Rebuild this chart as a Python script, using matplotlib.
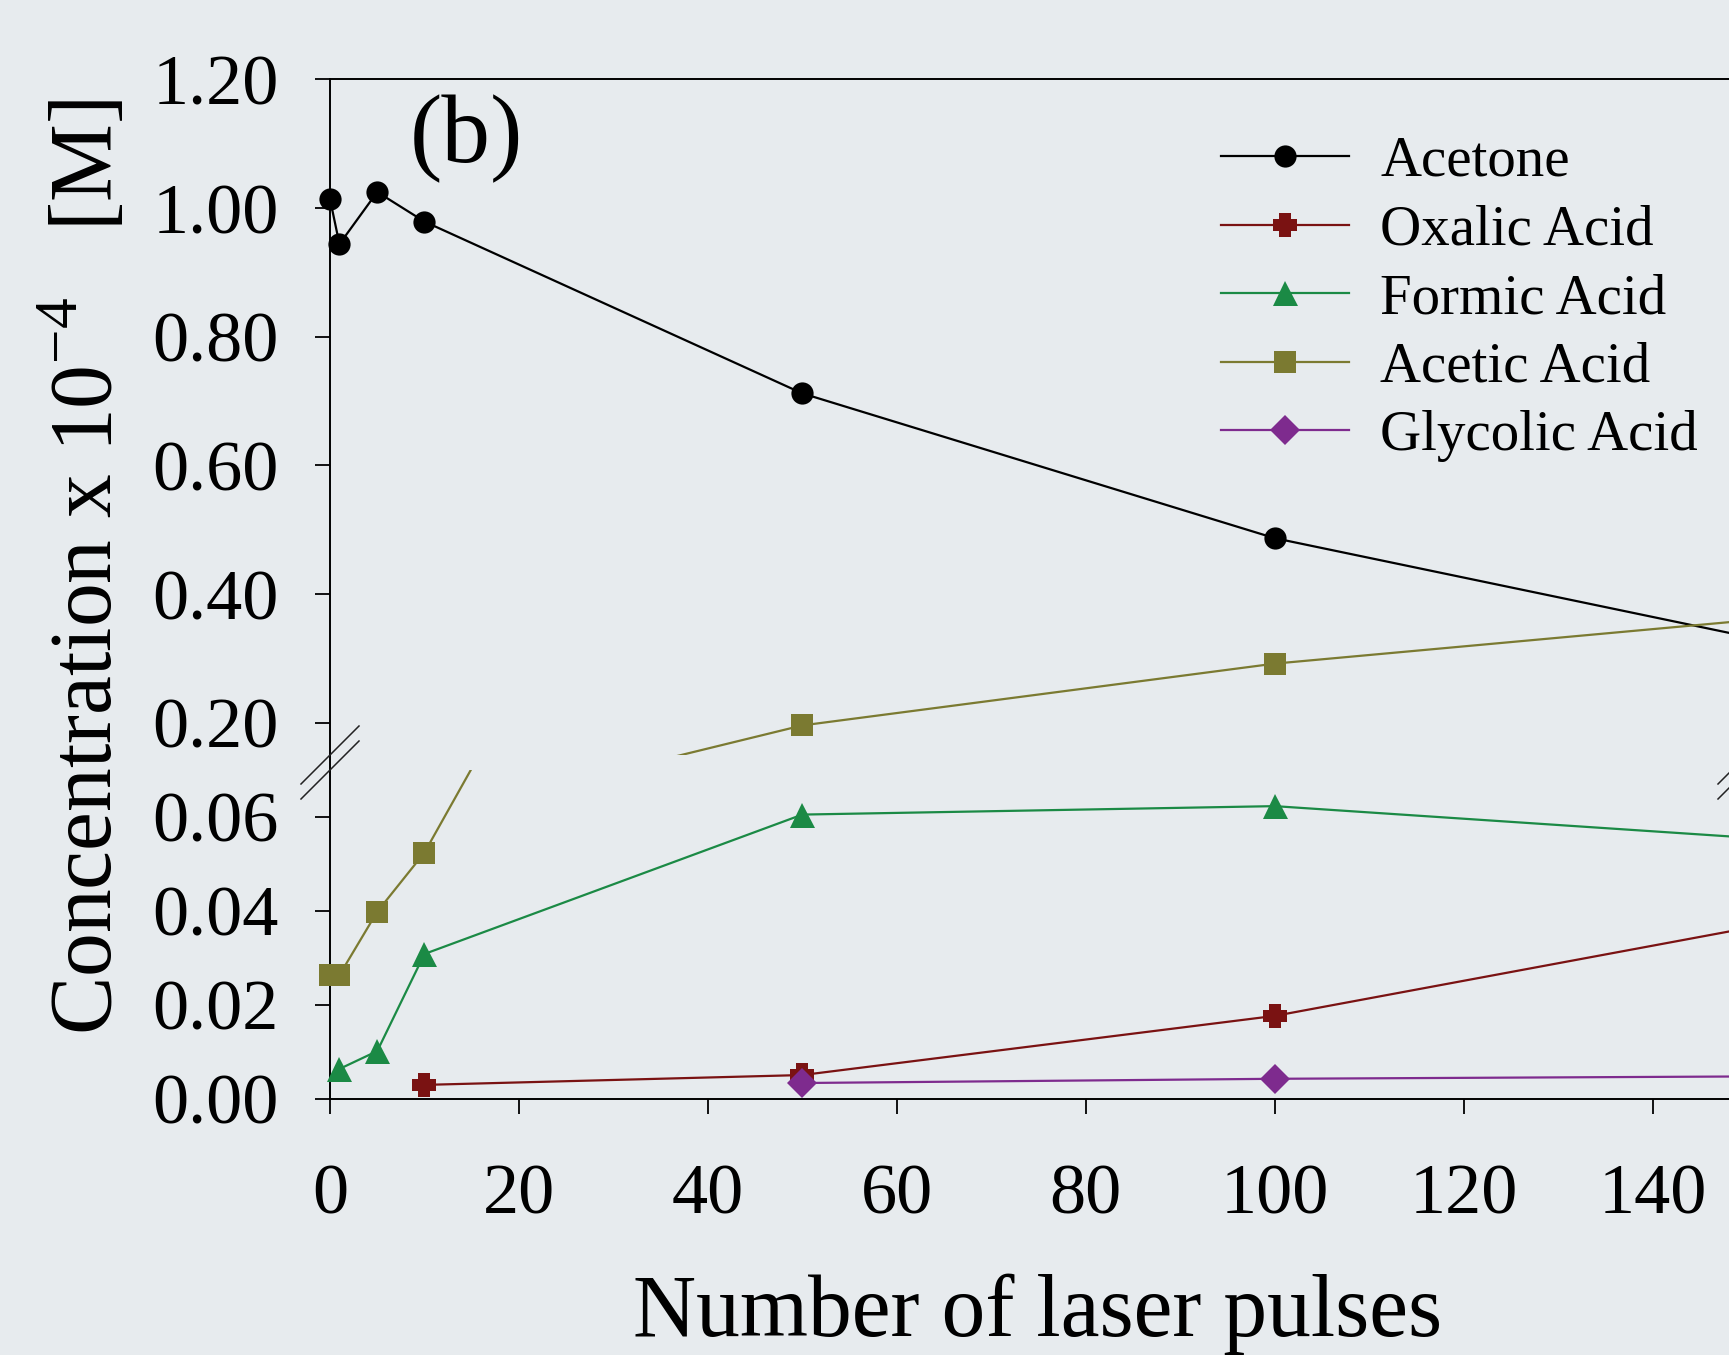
import numpy as np
import matplotlib
matplotlib.use('Agg')
import matplotlib.pyplot as plt
from matplotlib.lines import Line2D
from matplotlib.ticker import FormatStrFormatter

plt.rcParams['font.family'] = 'Liberation Serif'
plt.rcParams['mathtext.fontset'] = 'custom'
plt.rcParams['mathtext.rm'] = 'Liberation Serif'

# data (x = number of laser pulses, y = conc x 1e-4 M)
x_acetone = [0, 1, 5, 10, 50, 100, 150]
acetone = [1.014, 0.944, 1.025, 0.979, 0.712, 0.487, 0.334]
x_oxalic = [10, 50, 100, 150]
oxalic = [0.0029, 0.0050, 0.0176, 0.0363]
x_formic = [1, 5, 10, 50, 100, 150]
formic = [0.0063, 0.0101, 0.0308, 0.0605, 0.0623, 0.0556]
x_acetic = [0, 1, 5, 10, 50, 100, 150]
acetic = [0.0263, 0.0263, 0.0398, 0.0524, 0.196, 0.292, 0.359]
x_glycolic = [50, 100, 150]
glycolic = [0.0033, 0.0042, 0.0047]

names = ['Acetone', 'Oxalic Acid', 'Formic Acid', 'Acetic Acid', 'Glycolic Acid']
xs = [x_acetone, x_oxalic, x_formic, x_acetic, x_glycolic]
ys = [acetone, oxalic, formic, acetic, glycolic]
colors = ['#000000', '#7a1212', '#1b8a45', '#7b7a31', '#7e2b8e']

# chunky plus like the original symbol
a = 0.27
fat_plus = [(-a, -0.5), (a, -0.5), (a, -a), (0.5, -a), (0.5, a), (a, a), (a, 0.5),
            (-a, 0.5), (-a, a), (-0.5, a), (-0.5, -a), (-a, -a), (-a, -0.5)]
markers = ['o', fat_plus, '^', 's', 'D']
msizes = [16, 17, 18, 16, 15]

bg = '#e7ebee'
W, H = 1729, 1355
fig = plt.figure(figsize=(W / 100, H / 100), dpi=100, facecolor=bg)

xl, xr = 330, 1747
top_hi, top_lo = 79.4, 755
bot_hi, bot_lo = 770, 1098.5
ax_top = fig.add_axes([xl / W, 1 - top_lo / H, (xr - xl) / W, (top_lo - top_hi) / H])
ax_bot = fig.add_axes([xl / W, 1 - bot_lo / H, (xr - xl) / W, (bot_lo - bot_hi) / H])

ax_top.set_ylim(0.15, 1.2)
ax_bot.set_ylim(0, 0.07)

for ax in (ax_top, ax_bot):
    ax.set_facecolor('none')
    ax.set_xlim(0, 150)
    ax.spines['right'].set_visible(False)
    for s in ax.spines.values():
        s.set_linewidth(1.4)
    ax.tick_params(direction='out', length=11, width=1.3, labelsize=52, pad=26)
    ax.yaxis.set_major_formatter(FormatStrFormatter('%.2f'))
    lo, hi = ax.get_ylim()
    for x, y, c, m, ms in zip(xs, ys, colors, markers, msizes):
        x = np.array(x)
        y = np.array(y)
        ax.plot(x, y, color=c, lw=1.6, zorder=2)
        keep = (y >= lo) & (y <= hi)
        ax.plot(x[keep], y[keep], ls='none', marker=m, ms=ms, color=c,
                markeredgewidth=0, clip_on=False, zorder=3)

ax_top.spines['bottom'].set_visible(False)
ax_top.tick_params(axis='x', bottom=False, labelbottom=False)
ax_top.set_yticks([0.2, 0.4, 0.6, 0.8, 1.0, 1.2])
ax_bot.spines['top'].set_visible(False)
ax_bot.set_yticks([0.0, 0.02, 0.04, 0.06])
ax_bot.set_xticks([0, 20, 40, 60, 80, 100, 120, 140])
ax_bot.tick_params(axis='x', pad=36)

# join the left spine across the break, then the break marks
fig.add_artist(Line2D([xl / W, xl / W], [1 - top_lo / H, 1 - bot_hi / H],
                      color='black', lw=1.4, transform=fig.transFigure))
for sx in (xl, xr):
    for cy in (top_lo, bot_hi):
        fig.add_artist(Line2D([(sx - 29) / W, (sx + 29) / W],
                              [1 - (cy + 29) / H, 1 - (cy - 29) / H],
                              color='#222222', lw=1.1, transform=fig.transFigure))

handles = [Line2D([], [], color=c, lw=1.6, marker=m, ms=ms, markeredgewidth=0)
           for c, m, ms in zip(colors, markers, msizes)]
fig.legend(handles, names, loc='upper left', bbox_to_anchor=(1221 / W, 1 - 136 / H),
           bbox_transform=fig.transFigure, frameon=False, fontsize=41,
           handlelength=2.25, handletextpad=0.55, labelspacing=0.29,
           borderpad=0, borderaxespad=0, numpoints=1)

fig.text(410 / W, 1 - 162 / H, '(b)', fontsize=70, ha='left', va='baseline')
fig.text(86 / W, 1 - 567 / H, r'Concentration x 10$^{\mathregular{-4}}$   [M]',
         fontsize=63, rotation=90, ha='center', va='center')
fig.text(1038 / W, 1 - 1336 / H, 'Number of laser pulses', fontsize=63,
         ha='center', va='baseline')

fig.savefig('out.png', dpi=100, facecolor=bg)
